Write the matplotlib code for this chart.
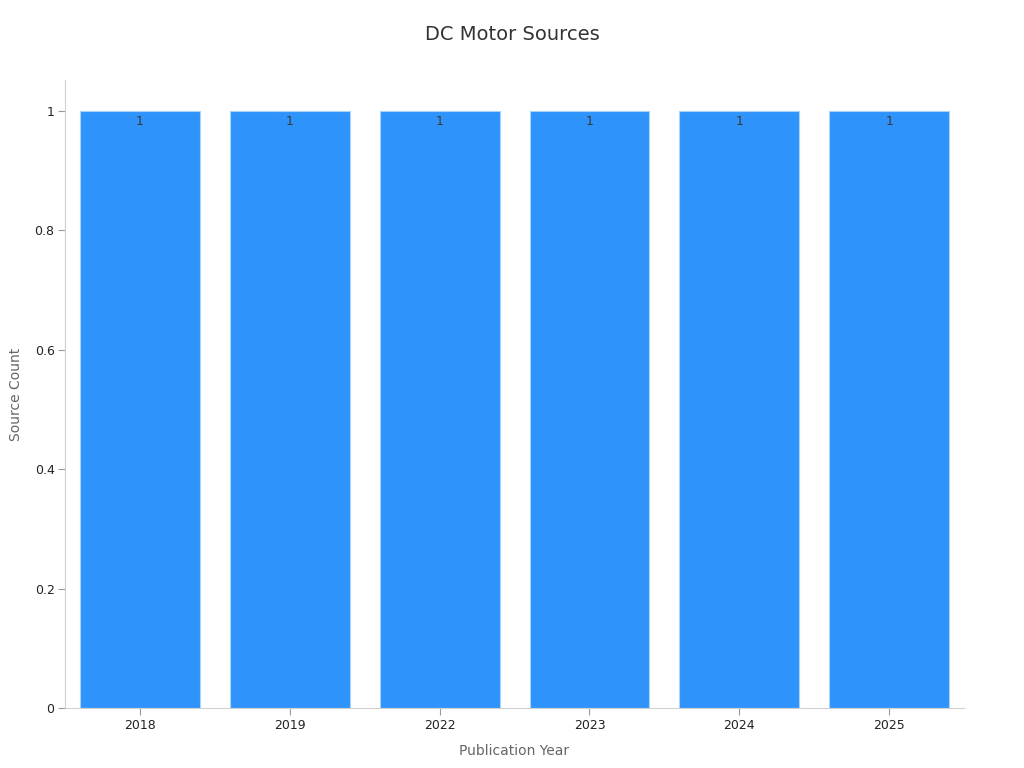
import matplotlib
matplotlib.use("Agg")
import matplotlib.pyplot as plt

years = ["2018", "2019", "2022", "2023", "2024", "2025"]
counts = [1, 1, 1, 1, 1, 1]

fig = plt.figure(figsize=(10.24, 7.68), dpi=100)
ax = fig.add_axes([0.0635, 0.078, 0.878, 0.818])

pos = list(range(len(years)))
bars = ax.bar(pos, counts, width=0.8, color="#2E93FA", edgecolor="#a9d3fb", linewidth=0.8)

for b, c in zip(bars, counts):
    ax.text(b.get_x() + b.get_width() / 2, c - 0.006, str(c), ha="center", va="top",
            fontsize=9, color="#3a3a3a")

ax.set_xlim(-0.5, len(years) - 0.5)
ax.set_ylim(0, 1.052)
ax.set_xticks(pos)
ax.set_xticklabels(years)
ax.set_yticks([0, 0.2, 0.4, 0.6, 0.8, 1])
ax.set_yticklabels(["0", "0.2", "0.4", "0.6", "0.8", "1"])
ax.tick_params(axis="both", labelsize=9, colors="#222222", length=5, width=0.8, pad=2.5)
ax.tick_params(axis="both", color="#999999")

for s in ["top", "right"]:
    ax.spines[s].set_visible(False)
for s in ["left", "bottom"]:
    ax.spines[s].set_color("#d0d0d0")
    ax.spines[s].set_linewidth(0.8)

ax.set_xlabel("Publication Year", fontsize=10, color="#666666", labelpad=9)
ax.set_ylabel("Source Count", fontsize=10, color="#666666", labelpad=8)
fig.suptitle("DC Motor Sources", fontsize=14, color="#333333", y=0.968)

fig.savefig("out.png", dpi=100)
